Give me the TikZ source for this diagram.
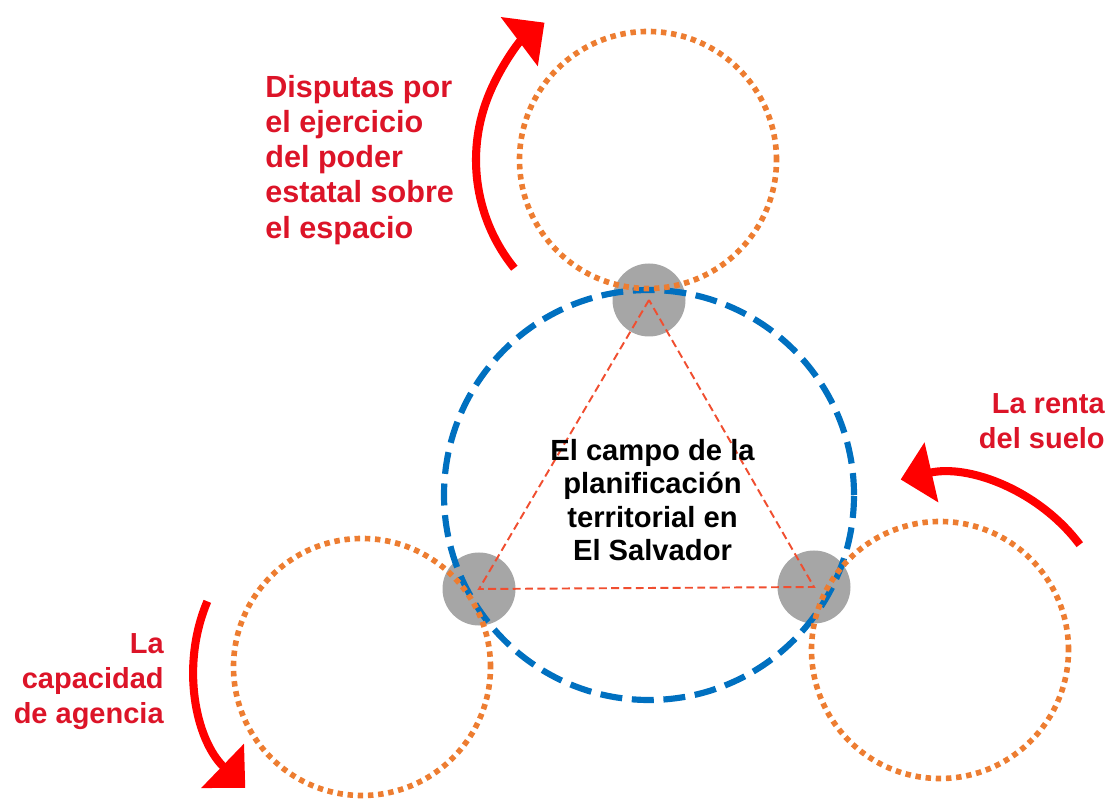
\documentclass[tikz,border=0pt]{standalone}
\usepackage{fontspec}
\setmainfont{Liberation Sans}
\usepackage{tikz}
\usetikzlibrary{arrows.meta}
\definecolor{ringc}{HTML}{ED7D31}
\definecolor{fieldc}{HTML}{0070C0}
\definecolor{knotc}{HTML}{A6A6A6}
\definecolor{flowc}{HTML}{FF0000}
\definecolor{notec}{HTML}{DC1428}
\definecolor{edgec}{HTML}{F04E30}
\tikzset{
  ring/.style={draw=ringc, line width=3.2pt, dash pattern=on 3.1pt off 2.7pt},
  field/.style={draw=fieldc, line width=3.5pt, dash pattern=on 12.5pt off 5.5pt},
  knot/.style={circle, fill=knotc, inner sep=0pt, minimum size=1.46cm},
  tri/.style={draw=edgec, line width=1.1pt, dash pattern=on 4.5pt off 2.5pt},
  turn/.style={draw=flowc, line width=4.6pt, -{Triangle[length=18pt,width=34pt]}},
  lab/.style={text=notec, font=\bfseries\fontsize{16.5}{20}\selectfont, inner sep=0pt},
  labc/.style={text=black, font=\bfseries\fontsize{16.6}{19}\selectfont, inner sep=0pt, align=center},
}
\begin{document}
\begin{tikzpicture}
  \useasboundingbox (0,0) rectangle (22.2,15.96);
  \def\r{4.1}
  \def\s{2.57}
  \coordinate (O) at (12.98,6.06);
  \coordinate (T) at (12.96,12.76);
  \coordinate (L) at (7.24,2.62);
  \coordinate (R) at (18.80,2.96);
  % vertices of the field
  \node[knot] (kt) at (12.98,9.96) {};
  \node[knot] (kl) at (9.58,4.18) {};
  \node[knot] (kr) at (16.28,4.22) {};
  \draw[tri] (kt.center) -- (kl.center) -- (kr.center) -- cycle;
  \draw[field] (O) circle (\r);
  \draw[ring] (T) circle (\s) (L) circle (\s) (R) circle (\s);
  % turning arrows
  \draw[turn] ([shift={(219:3.44)}]T) arc[start angle=219, end angle=127, radius=3.44];
  \draw[turn] ([shift={(157:3.36)}]L) arc[start angle=157, end angle=226, radius=3.36];
  \draw[turn] ([shift={(37:3.5)}]R) arc[start angle=37, end angle=103, radius=3.5];
  \node[labc, anchor=north] (title) at (13.05,7.18) {El campo de la\\planificación\\territorial en\\El Salvador};
  \node[lab, anchor=north west, align=left, font=\bfseries\fontsize{17.4}{20}\selectfont] (dispute) at (5.30,14.46) {Disputas por\\el ejercicio\\del poder\\estatal sobre\\el espacio};
  \node[lab, anchor=north east, align=right] (rent) at (22.1,8.10) {La renta\\del suelo};
  \node[lab, anchor=north east, align=right] (agency) at (3.28,3.30) {La\\capacidad\\de agencia};
\end{tikzpicture}
\end{document}
